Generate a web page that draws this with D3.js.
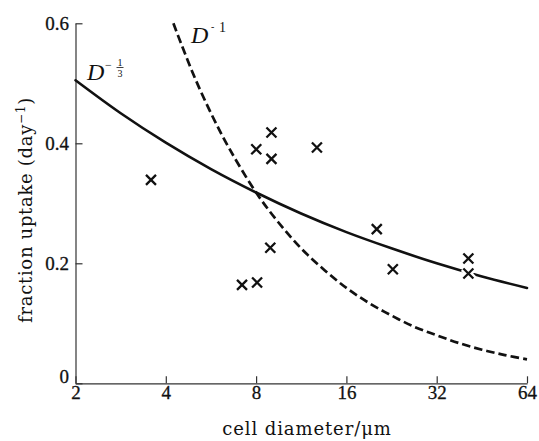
<!DOCTYPE html>
<html>
<head>
<meta charset="utf-8">
<script src="https://cdn.jsdelivr.net/npm/d3@7"></script>
<style>
  html, body { margin: 0; padding: 0; background: #fff; }
  svg { display: block; }
  .tk text { font-family: "Liberation Serif", "Times New Roman", serif !important; font-size: 19px !important; fill: #111; stroke: #111; stroke-width: 0.3px; }
</style>
</head>
<body>
<div id="chart"></div>
<script>
// ---- data ----
const xTicks = [2, 4, 8, 16, 32, 64];
const yTicks = [0, 0.2, 0.4, 0.6];

// measured points (cell diameter µm, fraction uptake day^-1)
const obsDiameter = [3.57, 7.18, 8.06, 8.01, 9.0, 9.0, 8.92, 12.76, 20.2, 22.85, 40.8, 40.8];
const obsUptake   = [0.339, 0.164, 0.168, 0.390, 0.418, 0.374, 0.226, 0.393, 0.257, 0.190, 0.208, 0.183];

// solid curve  D^-1/3
const solidD = [2, 2.83, 4, 5.66, 8, 11.3, 16, 22.6, 32, 45.3, 64];
const solidY = [0.505, 0.450, 0.401, 0.357, 0.318, 0.283, 0.252, 0.225, 0.200, 0.178, 0.159];

// dashed curve D^-1
const dashD = [4.24, 4.5, 5, 5.66, 6.5, 8, 9.5, 11.3, 13.5, 16, 19, 22.6, 27, 32, 38, 45.3, 54, 64];
const dashY = [0.600, 0.566, 0.509, 0.450, 0.392, 0.318, 0.268, 0.225, 0.189, 0.159, 0.134, 0.113, 0.094, 0.080, 0.067, 0.056, 0.047, 0.040];

const xTitle = "cell diameter/\u03bcm";

// ---- drawing ----
const W = 539, H = 441;
const svg = d3.select("#chart").append("svg").attr("width", W).attr("height", H);

const x = d3.scaleLog().base(2).domain([2, 64]).range([75.5, 527]);
const y = d3.scaleLinear().domain([0, 0.6]).range([383.3, 23.3]);

const ink = "#111";
const tickFont = "'Liberation Serif', 'Times New Roman', serif";
const titleFont = "'DejaVu Serif', serif";

// x axis
const gx = svg.append("g").attr("class", "tk").attr("transform", `translate(0,${y(0)})`)
  .call(d3.axisBottom(x).tickValues(xTicks).tickSize(-7).tickSizeOuter(0).tickFormat(d3.format("d")));
gx.attr("font-family", null).attr("font-size", null);
gx.select(".domain").attr("stroke", "#333").attr("stroke-width", 1.2);
gx.selectAll(".tick line").attr("stroke", "#333").attr("stroke-width", 1.2);
gx.selectAll(".tick text").attr("y", 15.5).attr("dy", 0).attr("fill", ink);

// y axis
const gy = svg.append("g").attr("class", "tk").attr("transform", `translate(${x(2)},0)`)
  .call(d3.axisLeft(y).tickValues(yTicks).tickSize(-7).tickSizeOuter(0)
    .tickFormat(d => d === 0 ? "0" : d3.format(".1f")(d)));
gy.attr("font-family", null).attr("font-size", null);
gy.select(".domain").attr("stroke", "#333").attr("stroke-width", 1.2);
gy.selectAll(".tick line").attr("stroke", "#333").attr("stroke-width", 1.2);
gy.selectAll(".tick text").attr("x", -6.5).attr("dy", d => d === 0 ? "-0.05em" : "0.33em").attr("fill", ink);

// curves
const line = d3.line().x(d => x(d[0])).y(d => y(d[1])).curve(d3.curveCatmullRom);
svg.append("path")
  .attr("d", line(solidD.map((d, i) => [d, solidY[i]])))
  .attr("fill", "none").attr("stroke", ink).attr("stroke-width", 2.6).attr("stroke-linecap", "round");
svg.append("path")
  .attr("d", line(dashD.map((d, i) => [d, dashY[i]])))
  .attr("fill", "none").attr("stroke", ink).attr("stroke-width", 2.7)
  .attr("stroke-dasharray", "8.5,4");

// markers (white halo first, then cross)
const s = 5;
const crossPath = (cx, cy) => `M${cx - s},${cy - s}L${cx + s},${cy + s}M${cx - s},${cy + s}L${cx + s},${cy - s}`;
const pts = obsDiameter.map((d, i) => [d, obsUptake[i]]);
svg.append("g").selectAll("path").data(pts).join("path")
  .attr("d", d => crossPath(x(d[0]), y(d[1])))
  .attr("stroke", "#fff").attr("stroke-width", 7).attr("fill", "none");
svg.append("g").selectAll("path").data(pts).join("path")
  .attr("d", d => crossPath(x(d[0]), y(d[1])))
  .attr("stroke", ink).attr("stroke-width", 2.3).attr("fill", "none");

// curve labels
const lab1 = svg.append("g").attr("fill", ink).style("font-family", tickFont);
lab1.append("text").attr("x", 87).attr("y", 80).attr("font-size", 24).attr("font-style", "italic").text("D");
lab1.append("text").attr("x", 105).attr("y", 69).attr("font-size", 12).text("\u2212");
lab1.append("text").attr("x", 120).attr("y", 65.5).attr("font-size", 10).attr("text-anchor", "middle").text("1");
lab1.append("line").attr("x1", 116.5).attr("x2", 123.5).attr("y1", 67.5).attr("y2", 67.5)
  .attr("stroke", ink).attr("stroke-width", 0.8);
lab1.append("text").attr("x", 120).attr("y", 76.5).attr("font-size", 10).attr("text-anchor", "middle").text("3");

const lab2 = svg.append("g").attr("fill", ink).style("font-family", tickFont);
lab2.append("text").attr("x", 191).attr("y", 43).attr("font-size", 24).attr("font-style", "italic").text("D");
lab2.append("text").attr("x", 211).attr("y", 30).attr("font-size", 10).text("-");
lab2.append("text").attr("x", 219).attr("y", 32).attr("font-size", 14).text("1");

// axis titles
svg.append("text").attr("x", 307).attr("y", 435).attr("text-anchor", "middle")
  .style("font-family", titleFont).attr("font-size", 18).attr("letter-spacing", 0.9)
  .attr("fill", ink).text(xTitle);

const yt = svg.append("text").attr("transform", "translate(32,210) rotate(-90)")
  .attr("text-anchor", "middle").style("font-family", titleFont).attr("font-size", 18)
  .attr("letter-spacing", 0.7).attr("fill", ink);
yt.append("tspan").text("fraction uptake (day");
yt.append("tspan").attr("font-size", 12).attr("dy", -7).text("\u22121");
yt.append("tspan").attr("dy", 7).text(")");
</script>
</body>
</html>
